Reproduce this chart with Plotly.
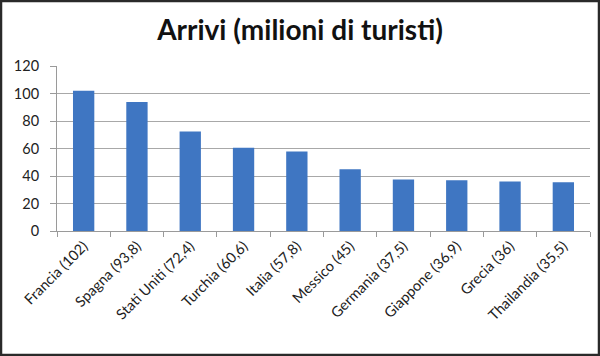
import plotly.graph_objects as go

categories = ["Francia (102)", "Spagna (93,8)", "Stati Uniti (72,4)", "Turchia (60,6)",
              "Italia (57,8)", "Messico (45)", "Germania (37,5)", "Giappone (36,9)",
              "Grecia (36)", "Thailandia (35,5)"]
values = [102, 93.8, 72.4, 60.6, 57.8, 45, 37.5, 36.9, 36, 35.5]
y_ticks = [0, 20, 40, 60, 80, 100, 120]

W, H = 600, 356
ml, mr, mt, mb = 57, 10, 66, 125
pw, ph = W - ml - mr, H - mt - mb

fig = go.Figure(go.Bar(x=categories, y=values, marker=dict(color="#3f76c2", line=dict(width=0))))

fig.update_layout(
    width=W, height=H,
    margin=dict(l=ml, r=mr, t=mt, b=mb),
    paper_bgcolor="white", plot_bgcolor="white",
    bargap=0.6,
    showlegend=False,
    font=dict(family="Lato, Open Sans, sans-serif", color="#222"),
    title=dict(text="<b>Arrivi (milioni di turisti)</b>", x=0.5, xanchor="center",
               y=1 - 30 / H, yanchor="middle",
               font=dict(size=28, family="Lato, sans-serif", color="#111")),
    xaxis=dict(tickangle=-45, tickfont=dict(size=14.5, color="#222"),
               showline=True, linecolor="#9a9a9a", linewidth=1,
               ticks="outside", tickson="boundaries", ticklen=5, tickcolor="#9a9a9a",
               showgrid=False),
    yaxis=dict(range=[0, 120], tickvals=y_ticks, tickfont=dict(size=14.5, color="#222"),
               showline=True, linecolor="#9a9a9a", linewidth=1,
               ticks="outside", ticklen=6, tickcolor="#9a9a9a", ticklabelstandoff=8,
               gridcolor="#a8a8a8", gridwidth=1, zeroline=False),
)

fig.add_shape(type="rect", xref="paper", yref="paper",
              x0=(-ml + 1) / pw, x1=(W - ml - 1) / pw,
              y0=(-mb + 1) / ph, y1=(H - mb - 1) / ph,
              line=dict(color="#2a2a2a", width=2.5), layer="above")

fig.write_html("out.html")
